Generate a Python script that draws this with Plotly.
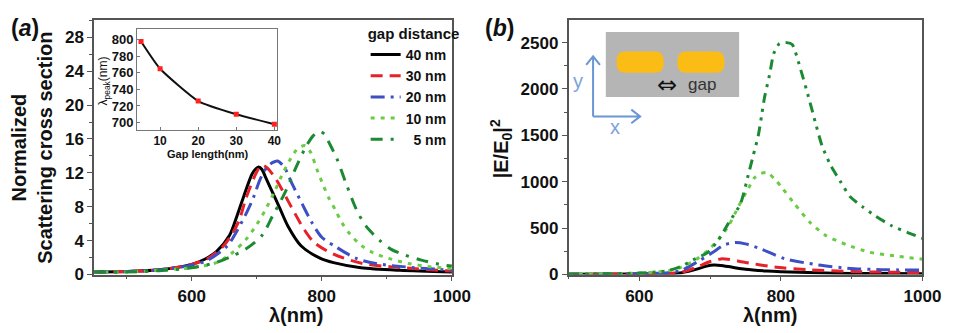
import plotly.graph_objects as go

W, H = 964, 333

# ---------------- data: panel (a) normalized scattering cross section ----------------
gap_labels = ["40 nm", "30 nm", "20 nm", "10 nm", "\u20075 nm"]

wl_a_40 = [450, 500, 550, 600, 620, 638, 658, 670, 683, 693, 699, 703, 708, 714, 723, 735, 748, 768, 798, 818, 860, 920, 1000]
sc_a_40 = [0.3, 0.35, 0.55, 1.2, 1.8, 2.7, 4.6, 7.0, 9.9, 11.9, 12.5, 12.7, 12.4, 11.4, 9.9, 7.9, 5.7, 3.4, 1.9, 1.4, 0.8, 0.5, 0.3]

wl_a_30 = [450, 500, 550, 600, 625, 648, 663, 673, 683, 695, 703, 709, 716, 730, 753, 773, 788, 818, 863, 908, 1000]
sc_a_30 = [0.3, 0.35, 0.55, 1.2, 1.9, 3.3, 4.9, 6.4, 8.9, 11.3, 12.5, 12.9, 12.6, 11.2, 8.0, 5.3, 3.8, 2.4, 1.3, 0.9, 0.4]

wl_a_20 = [450, 500, 550, 600, 625, 655, 670, 685, 695, 705, 715, 724, 732, 742, 755, 770, 785, 800, 823, 853, 883, 928, 1000]
sc_a_20 = [0.3, 0.35, 0.55, 1.1, 1.7, 3.4, 5.2, 7.4, 9.1, 11.2, 12.6, 13.2, 13.4, 12.7, 10.6, 8.3, 6.1, 4.4, 3.2, 1.9, 1.3, 0.9, 0.5]

wl_a_10 = [450, 500, 550, 600, 638, 663, 683, 700, 713, 728, 738, 750, 760, 768, 775, 783, 793, 803, 811, 821, 831, 843, 861, 878, 903, 933, 968, 1000]
sc_a_10 = [0.3, 0.3, 0.5, 0.8, 1.4, 2.6, 4.1, 5.9, 7.6, 9.9, 11.6, 13.4, 14.6, 15.1, 15.2, 14.4, 12.3, 10.4, 9.0, 7.6, 6.1, 4.8, 3.4, 2.6, 1.9, 1.3, 0.9, 0.7]

wl_a_5 = [450, 500, 550, 600, 637, 660, 683, 708, 725, 743, 760, 775, 787, 797, 805, 811, 823, 838, 853, 868, 888, 906, 928, 953, 988, 1000]
sc_a_5 = [0.3, 0.3, 0.45, 0.8, 1.4, 2.1, 3.0, 4.6, 7.0, 9.6, 12.6, 15.0, 16.4, 16.9, 16.5, 15.6, 13.7, 10.6, 7.7, 5.7, 4.1, 3.0, 2.3, 1.7, 1.1, 1.0]

# ---------------- inset: peak wavelength vs gap ----------------
gap_nm = [5, 10, 20, 30, 40]
peak_nm = [798, 765, 726, 710, 698]

# ---------------- data: panel (b) |E/E0|^2 ----------------
wl_b_40 = [500, 600, 640, 660, 680, 695, 705, 715, 730, 750, 780, 800, 850, 900, 950, 1000]
ef_b_40 = [3, 5, 10, 20, 55, 90, 102, 98, 80, 57, 38, 30, 18, 12, 10, 8]

wl_b_30 = [500, 600, 640, 660, 680, 700, 715, 725, 750, 791, 842, 900, 950, 1000]
ef_b_30 = [3, 6, 12, 25, 75, 140, 168, 165, 130, 80, 50, 32, 25, 20]

wl_b_20 = [500, 600, 640, 660, 685, 704, 720, 735, 750, 773, 805, 851, 898, 943, 1000]
ef_b_20 = [3, 8, 20, 45, 150, 240, 320, 345, 330, 272, 170, 105, 65, 52, 48]

wl_b_10 = [500, 550, 600, 640, 660, 680, 697, 712, 726, 740, 752, 763, 772, 781, 791, 801, 819, 842, 864, 892, 925, 961, 1000]
ef_b_10 = [5, 8, 15, 40, 80, 160, 260, 380, 523, 732, 900, 1046, 1090, 1100, 1030, 941, 764, 554, 418, 324, 240, 200, 165]

wl_b_5 = [500, 550, 600, 640, 660, 676, 697, 712, 726, 743, 754, 761, 768, 773, 777, 784, 790, 798, 808, 816, 828, 839, 849, 858, 870, 884, 898, 915, 934, 957, 980, 1000]
ef_b_5 = [5, 8, 15, 40, 90, 157, 240, 377, 554, 764, 1077, 1287, 1496, 1726, 1914, 2155, 2385, 2490, 2500, 2480, 2207, 1914, 1632, 1391, 1182, 1004, 837, 732, 628, 523, 450, 390]

# ---------------- styles ----------------
colors = ["#000000", "#e8202a", "#3d4fc4", "#6acb45", "#1b8a32"]
dash_a = ["solid", "12px,7px", "14px,6px,3px,6px", "4px,6px", "12px,8px,3px,8px"]
dash_b = ["solid", "12px,7px", "14px,6px,3px,6px", "4px,6px", "10px,6px,3px,6px,3px,6px"]
FONT = "Arial, Liberation Sans, sans-serif"


def px(x):
    return x / W


def py(y):
    return 1 - y / H


fig = go.Figure()

series_a = [(wl_a_40, sc_a_40), (wl_a_30, sc_a_30), (wl_a_20, sc_a_20), (wl_a_10, sc_a_10), (wl_a_5, sc_a_5)]
for i, (xs, ys) in enumerate(series_a):
    fig.add_trace(go.Scatter(
        x=xs, y=ys, mode="lines", name=gap_labels[i],
        line=dict(color=colors[i], width=3, dash=dash_a[i], shape="spline", smoothing=0.8),
        xaxis="x", yaxis="y", showlegend=True))

series_b = [(wl_b_40, ef_b_40), (wl_b_30, ef_b_30), (wl_b_20, ef_b_20), (wl_b_10, ef_b_10), (wl_b_5, ef_b_5)]
for i, (xs, ys) in enumerate(series_b):
    fig.add_trace(go.Scatter(
        x=xs, y=ys, mode="lines", name=gap_labels[i],
        line=dict(color=colors[i], width=3, dash=dash_b[i], shape="spline", smoothing=0.6),
        xaxis="x2", yaxis="y2", showlegend=False))

fig.add_trace(go.Scatter(
    x=gap_nm, y=peak_nm, mode="lines+markers",
    line=dict(color="#111111", width=2, shape="spline", smoothing=0.5),
    marker=dict(color="#ff2020", size=5, symbol="square"),
    xaxis="x3", yaxis="y3", showlegend=False))

axis_common = dict(
    showline=True, mirror=True, linecolor="#555555", linewidth=1.5,
    ticks="outside", ticklen=5, tickwidth=1.3, tickcolor="#555555",
    showgrid=False, zeroline=False,
    tickfont=dict(family=FONT, size=17, color="#111111", weight="bold"),
)

fig.update_layout(
    width=W, height=H,
    margin=dict(l=0, r=0, t=0, b=0),
    paper_bgcolor="white", plot_bgcolor="white",
    xaxis=dict(domain=[px(96), px(461)], range=[450, 1000], anchor="y",
               tickvals=[600, 800, 1000], minor=dict(dtick=100, tick0=0, ticks="outside", ticklen=3, tickcolor="#555555"),
               **axis_common),
    yaxis=dict(domain=[py(283), py(21)], range=[0, 30], anchor="x",
               tickvals=[0, 4, 8, 12, 16, 20, 24, 28], minor=dict(dtick=2, tick0=0, ticks="outside", ticklen=3, tickcolor="#555555"),
               **axis_common),
    xaxis2=dict(domain=[px(580), px(941)], range=[500, 1000], anchor="y2",
                tickvals=[600, 800, 1000], minor=dict(dtick=100, tick0=0, ticks="outside", ticklen=3, tickcolor="#555555"),
                **axis_common),
    yaxis2=dict(domain=[py(283), py(21)], range=[0, 2740], anchor="x2",
                tickvals=[0, 500, 1000, 1500, 2000, 2500], minor=dict(dtick=250, tick0=0, ticks="outside", ticklen=3, tickcolor="#555555"),
                **axis_common),
    xaxis3=dict(domain=[px(140), px(283)], range=[4, 40.8], anchor="y3",
                showline=True, mirror=True, linecolor="#777777", linewidth=1.2,
                ticks="inside", ticklen=3, tickcolor="#777777", showgrid=False, zeroline=False,
                tickvals=[10, 20, 30, 40], ticklabelstandoff=0,
                tickfont=dict(family=FONT, size=12, color="#111111", weight="bold")),
    yaxis3=dict(domain=[py(134), py(30)], range=[691, 813], anchor="x3",
                showline=True, mirror=True, linecolor="#777777", linewidth=1.2,
                ticks="inside", ticklen=3, tickcolor="#777777", showgrid=False, zeroline=False,
                tickvals=[700, 720, 740, 760, 780, 800], ticklabelstandoff=0,
                tickfont=dict(family=FONT, size=13, color="#111111", weight="bold")),
    legend=dict(x=px(373), y=py(20), xanchor="left", yanchor="top",
                bgcolor="rgba(0,0,0,0)", itemwidth=30, tracegroupgap=0,
                title=dict(text="gap distance", font=dict(family=FONT, size=15, color="#111111", weight="bold")),
                font=dict(family=FONT, size=14, color="#111111", weight="bold")),
    showlegend=True,
)


def text_ann(text, x, y, size, angle=0, family=FONT, color="#111111", weight="bold"):
    return dict(text=text, x=px(x), y=py(y), xref="paper", yref="paper", showarrow=False,
                xanchor="center", yanchor="middle", textangle=angle,
                font=dict(family=family, size=size, color=color, weight=weight))


ann = [
    text_ann("(<i>a</i>)", 26, 29, 23),
    text_ann("(<i>b</i>)", 510, 29, 23),
    text_ann("Normalized<br>Scattering cross section", 33, 152, 20, angle=-90),
    text_ann("|E/E<sub>0</sub>|<sup>2</sup>", 511, 153, 20, angle=-90),
    text_ann("λ(nm)", 302, 325, 20),
    text_ann("λ(nm)", 785, 325, 20),
    text_ann("Gap length(nm)", 212, 159, 11),
    text_ann("λ<sub>peak</sub>(nm)", 106, 83, 12, angle=-90, weight="normal"),
    text_ann("⇔", 680, 88, 24, family="DejaVu Sans", weight="normal"),
    text_ann("gap", 716, 87, 17, family="Liberation Sans", color="#333333", weight="normal"),
    text_ann("y", 590, 84, 20, family="Liberation Sans", color="#7ea3d9", weight="normal"),
    text_ann("x", 627, 131, 20, family="Liberation Sans", color="#7ea3d9", weight="normal"),
]
fig.update_layout(annotations=ann)


def rounded_rect(x0, y0, x1, y1, r):
    return (f"M {px(x0 + r)} {py(y0)} L {px(x1 - r)} {py(y0)} "
            f"Q {px(x1)} {py(y0)} {px(x1)} {py(y0 + r)} "
            f"L {px(x1)} {py(y1 - r)} Q {px(x1)} {py(y1)} {px(x1 - r)} {py(y1)} "
            f"L {px(x0 + r)} {py(y1)} Q {px(x0)} {py(y1)} {px(x0)} {py(y1 - r)} "
            f"L {px(x0)} {py(y0 + r)} Q {px(x0)} {py(y0)} {px(x0 + r)} {py(y0)} Z")


shapes = []
shapes.append(dict(type="rect", xref="paper", yref="paper", x0=px(618), x1=px(754), y0=py(100), y1=py(33),
                   fillcolor="#b5b5b5", line=dict(width=0), layer="above"))
for (a, b) in [(629, 677), (691, 739)]:
    shapes.append(dict(type="path", xref="paper", yref="paper", path=rounded_rect(a, 53, b, 75, 9),
                       fillcolor="#fbbc15", line=dict(width=0), layer="above"))
blue = "#6a96d4"
shapes.append(dict(type="path", xref="paper", yref="paper",
                   path=f"M {px(605)} {py(120)} L {px(605)} {py(58)} M {px(598)} {py(67)} L {px(605)} {py(58)} L {px(612)} {py(67)}",
                   line=dict(color=blue, width=2), layer="above"))
shapes.append(dict(type="path", xref="paper", yref="paper",
                   path=f"M {px(605)} {py(120)} L {px(653)} {py(120)} M {px(644)} {py(113)} L {px(653)} {py(120)} L {px(644)} {py(127)}",
                   line=dict(color=blue, width=2), layer="above"))
fig.update_layout(shapes=shapes)

fig.write_html("out.html")
